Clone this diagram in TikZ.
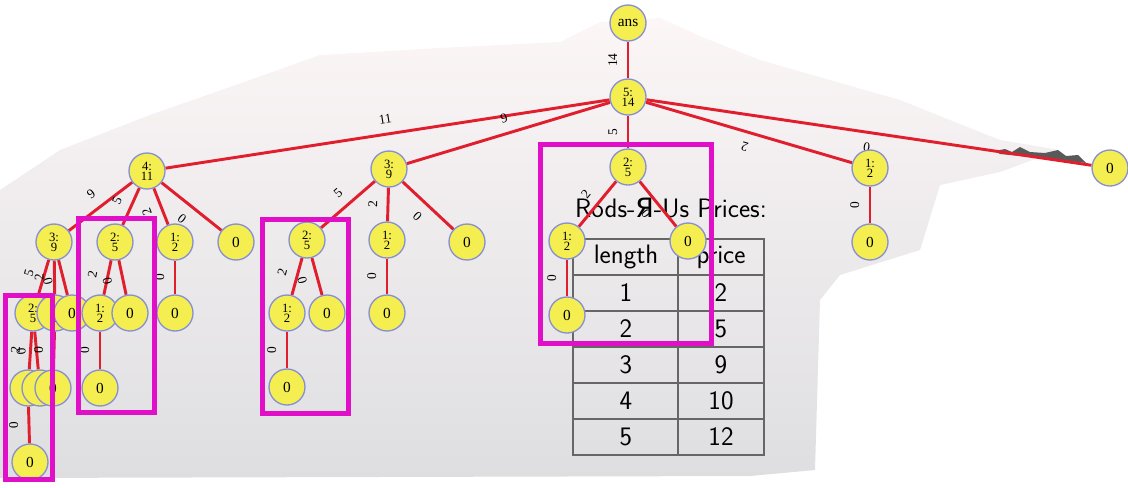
\documentclass[tikz,border=0pt]{standalone}
\usepackage{fontspec}
\usepackage{tikz}
\newfontfamily\nodefont{Liberation Serif}
\newfontfamily\cyrfont{DejaVu Sans}
\definecolor{nodefill}{RGB}{245,238,80}
\definecolor{nodeline}{RGB}{135,145,210}
\definecolor{edgered}{RGB}{225,30,45}
\definecolor{boxmag}{RGB}{225,15,200}
\definecolor{slidetop}{RGB}{252,246,246}
\definecolor{slidebot}{RGB}{222,222,225}
\pgfdeclarelayer{slide}
\pgfdeclarelayer{wires}
\pgfsetlayers{slide,wires,main}

\begin{document}
\begin{tikzpicture}[x=0.75pt,y=-0.75pt,
  vtx/.style={circle,draw=nodeline,line width=1pt,fill=nodefill,minimum size=27pt,inner sep=0pt,font=\nodefont\fontsize{11.5}{11.5}\selectfont},
  pair/.style={vtx,align=center,font=\nodefont\fontsize{9.5}{7.5}\selectfont},
  edge/.style={draw=edgered,line width=2.2pt},
  wt/.style={sloped,above=5pt,allow upside down,inner sep=2pt,font=\nodefont\fontsize{10}{10}\selectfont},
  memo/.style={draw=boxmag,line width=3.75pt},
  tab/.style={draw=black!60,line width=1pt},
  cell/.style={font=\sffamily\fontsize{20}{20}\selectfont}]
\useasboundingbox (0,0) rectangle (1128,487);
%slide
\begin{pgfonlayer}{slide}
\shade[top color=slidetop,middle color=white,bottom color=slidebot]
  (0,190) -- (60,150) -- (150,115) -- (250,80) -- (320,55) -- (440,48) -- (560,42)
  -- (600,22) -- (660,18) -- (700,36) -- (760,60) -- (900,100) -- (1000,140)
  -- (1060,150) -- (1000,172) -- (940,185) -- (920,250) -- (840,275) -- (820,300)
  -- (815,470) -- (750,476) -- (0,478) -- cycle;
\fill[black!65] (995,151) -- (1005,149) -- (1012,152) -- (1020,147) -- (1030,152)
  -- (1045,153) -- (1058,150) -- (1066,156) -- (1078,155) -- (1086,163)
  -- (1060,160) -- (1030,157) -- (1000,154) -- cycle;
\node[cell,anchor=base] (title) at (671,217) {Rods-{\cyrfont Я}-Us Prices:};
\draw[tab] (573,239) rectangle (764,455);
\draw[tab] (678,239) -- (678,455);
\draw[tab] (573,275) -- (764,275);
\draw[tab] (573,311) -- (764,311);
\draw[tab] (573,347) -- (764,347);
\draw[tab] (573,383) -- (764,383);
\draw[tab] (573,419) -- (764,419);
\node[cell] (len) at (626,257) {length};
\node[cell] (pri) at (721,257) {price};
\node[cell] (l1) at (626,293) {1};
\node[cell] (p1) at (721,293) {2};
\node[cell] (l2) at (626,329) {2};
\node[cell] (p2) at (721,329) {5};
\node[cell] (l3) at (626,365) {3};
\node[cell] (p3) at (721,365) {9};
\node[cell] (l4) at (626,401) {4};
\node[cell] (p4) at (721,401) {10};
\node[cell] (l5) at (626,437) {5};
\node[cell] (p5) at (721,437) {12};
\end{pgfonlayer}
%tree
\node[vtx] (ans) at (628,23) {ans};
\node[pair] (a) at (628,97) {5:\\14};
\node[pair] (b4) at (147,171) {4:\\11};
\node[pair] (b3) at (389,169) {3:\\9};
\node[pair] (b2) at (628,167) {2:\\5};
\node[pair] (b1) at (870,168) {1:\\2};
\node[vtx] (b0) at (1110,168) {0};
\node[pair] (c43) at (54,242) {3:\\9};
\node[pair] (c42) at (115,242) {2:\\5};
\node[pair] (c41) at (175,242) {1:\\2};
\node[vtx] (c40) at (236,242) {0};
\node[pair] (d432) at (33,313) {2:\\5};
\node[pair] (d431) at (55,313) {1:\\2};
\node[vtx] (d430) at (72,313) {0};
\node[pair] (d421) at (100,313) {1:\\2};
\node[vtx] (d420) at (130,313) {0};
\node[vtx] (d410) at (175,313) {0};
\node[pair] (e4321) at (28,388) {1:\\2};
\node[vtx] (e4320) at (40,388) {0};
\node[vtx] (e4310) at (53,388) {0};
\node[vtx] (e4210) at (100,388) {0};
\node[vtx] (f43210) at (30,462) {0};
\node[pair] (c32) at (307,240) {2:\\5};
\node[pair] (c31) at (387,240) {1:\\2};
\node[vtx] (c30) at (467,242) {0};
\node[pair] (d321) at (287,313) {1:\\2};
\node[vtx] (d320) at (327,313) {0};
\node[vtx] (d310) at (387,313) {0};
\node[vtx] (e3210) at (287,387) {0};
\node[pair] (c21) at (567,241) {1:\\2};
\node[vtx] (c20) at (688,241) {0};
\node[vtx] (d210) at (567,315) {0};
\node[vtx] (c10) at (870,242) {0};
%edges
\begin{pgfonlayer}{wires}
\draw[edge] (a) -- node[wt]{14} (ans);
\draw[edge] (b4) -- node[wt]{11} (a);
\draw[edge] (b3) -- node[wt]{9} (a);
\draw[edge] (b2) -- node[wt]{5} (a);
\draw[edge] (b1) -- node[wt]{2} (a);
\draw[edge] (b0) -- node[wt]{0} (a);
\draw[edge] (c43) -- node[wt]{9} (b4);
\draw[edge] (c42) -- node[wt]{5} (b4);
\draw[edge] (c41) -- node[wt]{2} (b4);
\draw[edge] (c40) -- node[wt]{0} (b4);
\draw[edge] (d432) -- node[wt]{5} (c43);
\draw[edge] (d431) -- node[wt]{2} (c43);
\draw[edge] (d430) -- node[wt]{0} (c43);
\draw[edge] (e4321) -- node[wt]{2} (d432);
\draw[edge] (e4320) -- node[wt]{0} (d432);
\draw[edge] (e4310) -- node[wt]{0} (d431);
\draw[edge] (f43210) -- node[wt]{0} (e4321);
\draw[edge] (d421) -- node[wt]{2} (c42);
\draw[edge] (d420) -- node[wt]{0} (c42);
\draw[edge] (e4210) -- node[wt]{0} (d421);
\draw[edge] (d410) -- node[wt]{0} (c41);
\draw[edge] (c32) -- node[wt]{5} (b3);
\draw[edge] (c31) -- node[wt]{2} (b3);
\draw[edge] (c30) -- node[wt]{0} (b3);
\draw[edge] (d321) -- node[wt]{2} (c32);
\draw[edge] (d320) -- node[wt]{0} (c32);
\draw[edge] (e3210) -- node[wt]{0} (d321);
\draw[edge] (d310) -- node[wt]{0} (c31);
\draw[edge] (c21) -- node[wt]{2} (b2);
\draw[edge] (c20) -- node[wt]{0} (b2);
\draw[edge] (d210) -- node[wt]{0} (c21);
\draw[edge] (c10) -- node[wt]{0} (b1);
\end{pgfonlayer}
%boxes
\draw[memo] (5.5,295) rectangle (52.5,479);
\draw[memo] (78.5,218) rectangle (154,412.5);
\draw[memo] (262.5,219) rectangle (348.5,413);
\draw[memo] (540,144.5) rectangle (711.5,343);
\end{tikzpicture}
\end{document}
